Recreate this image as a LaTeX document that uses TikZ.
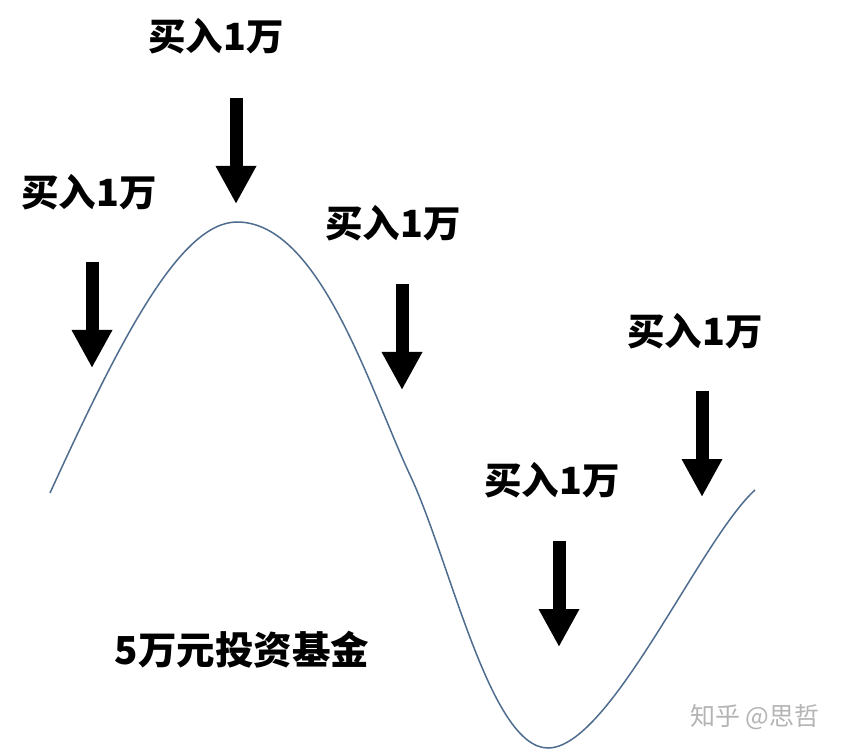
\documentclass[tikz,border=0pt]{standalone}
\usepackage{fontspec}
\newfontfamily\cjk{Noto Sans CJK SC}
\usetikzlibrary{arrows.meta}
\definecolor{curveblue}{HTML}{4F6D8F}
\definecolor{wmgray}{HTML}{B4B4B4}
\tikzset{
  buylabel/.style={font=\cjk\bfseries\fontsize{37.5}{40}\selectfont, inner sep=0pt, text=black},
  buyarrow/.style={line width=13pt, -{Triangle[width=38pt,length=38pt]}, black},
  pricecurve/.style={draw=curveblue, line width=1.5pt},
}
\begin{document}
\begin{tikzpicture}[x=1pt,y=-1pt]
\useasboundingbox (0,0) rectangle (844,751);
\fill[white] (0,0) rectangle (844,751);
% curve
\draw[pricecurve] (50,493) .. controls (120,340) and (180,222) .. (237,222)
  .. controls (320,222) and (370,390) .. (410,475)
  .. controls (450,560) and (490,748) .. (548,748)
  .. controls (610,748) and (700,540) .. (755,490);
% labels
\node[buylabel] (l1) at (89,192) {买入1万};
\node[buylabel] (l2) at (216,36) {买入1万};
\node[buylabel] (l3) at (393,223) {买入1万};
\node[buylabel] (l4) at (552,480) {买入1万};
\node[buylabel] (l5) at (695,331) {买入1万};
\node[buylabel, font=\cjk\bfseries\fontsize{38.5}{40}\selectfont] (title) at (242,650) {5万元投资基金};
\node[font=\cjk\fontsize{25}{27}\selectfont, text=wmgray, inner sep=0pt] (wm) at (755,717) {知乎 @思哲};
% arrows
\coordinate (a1s) at (92,262); \coordinate (a1e) at (92,368);
\coordinate (a2s) at (236,98); \coordinate (a2e) at (236,204);
\coordinate (a3s) at (402,284); \coordinate (a3e) at (402,390);
\coordinate (a4s) at (559,541); \coordinate (a4e) at (559,647);
\coordinate (a5s) at (702,391); \coordinate (a5e) at (702,497);
\draw[buyarrow] (a1s) -- (a1e);
\draw[buyarrow] (a2s) -- (a2e);
\draw[buyarrow] (a3s) -- (a3e);
\draw[buyarrow] (a4s) -- (a4e);
\draw[buyarrow] (a5s) -- (a5e);
\end{tikzpicture}
\end{document}
